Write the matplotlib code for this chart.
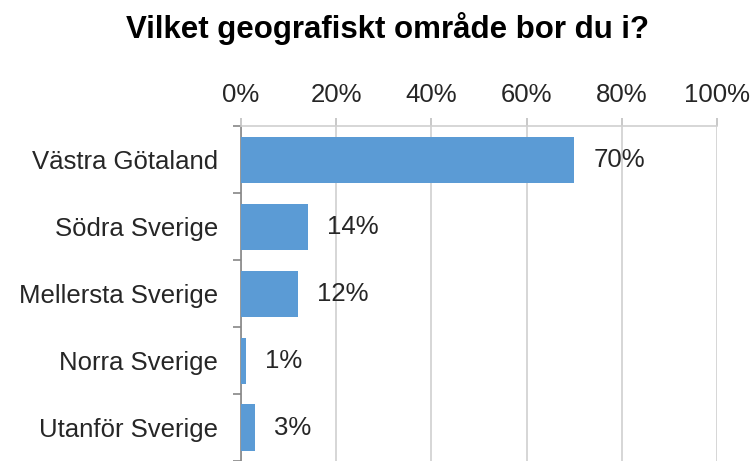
import matplotlib.pyplot as plt
from matplotlib.ticker import FuncFormatter

plt.rcParams["font.family"] = ["Liberation Sans", "DejaVu Sans"]

categories = ["Västra Götaland", "Södra Sverige", "Mellersta Sverige", "Norra Sverige", "Utanför Sverige"]
values = [70, 14, 12, 1, 3]
labels = ["70%", "14%", "12%", "1%", "3%"]
ticks = [0, 20, 40, 60, 80, 100]

fig = plt.figure(figsize=(7.55, 4.61), dpi=100)
ax = fig.add_axes([241 / 755, 0.0, 476 / 755, 1 - 126.5 / 461])

ypos = list(range(len(categories)))
ax.barh(ypos, values, height=0.69, color="#5B9BD5", zorder=3)
for y, v, lab in zip(ypos, values, labels):
    ax.text(v + 4.0, y, lab, va="center", ha="left", fontsize=18.5, color="#262626")

ax.set_xlim(0, 100)
ax.set_ylim(len(categories) - 0.5, -0.5)
ax.set_xticks(ticks)
ax.xaxis.set_major_formatter(FuncFormatter(lambda v, p: f"{v:.0f}%"))
ax.xaxis.tick_top()
ax.tick_params(axis="x", length=6, color="#BFBFBF", width=1.2, labelsize=18.5, labelcolor="#262626", pad=8)
ax.grid(axis="x", color="#D0D0D0", linewidth=1.2, zorder=0)

ax.set_yticks(ypos)
ax.set_yticklabels(categories)
ax.set_yticks([i + 0.5 for i in range(-1, len(categories))], minor=True)
ax.tick_params(axis="y", which="major", length=0, labelsize=18.5, labelcolor="#262626", pad=16.5)
ax.tick_params(axis="y", which="minor", length=6, color="#868686", width=1.2)

for side in ["right", "bottom"]:
    ax.spines[side].set_visible(False)
ax.spines["top"].set_color("#D0D0D0")
ax.spines["top"].set_linewidth(1.2)
ax.spines["left"].set_color("#868686")
ax.spines["left"].set_linewidth(1.2)

fig.text(0.513, 1 - 38 / 461, "Vilket geografiskt område bor du i?", ha="center", va="baseline",
         fontsize=22.5, fontweight="bold", color="#000000")

fig.savefig("out.png", dpi=100)
